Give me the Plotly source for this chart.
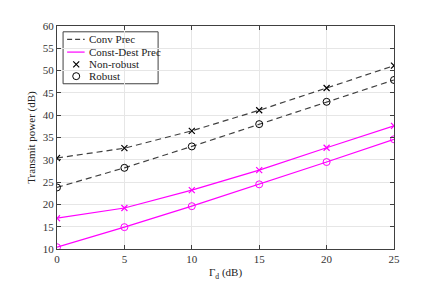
import plotly.graph_objects as go

gamma_d = [0, 5, 10, 15, 20, 25]
conv_nonrobust = [30.4, 32.6, 36.5, 41.1, 46.1, 51.1]
conv_robust = [23.8, 28.2, 33.0, 38.0, 43.0, 47.9]
cd_nonrobust = [16.9, 19.2, 23.2, 27.7, 32.7, 37.6]
cd_robust = [10.4, 14.9, 19.6, 24.5, 29.5, 34.6]

x_ticks = [0, 5, 10, 15, 20, 25]
y_ticks = [10, 15, 20, 25, 30, 35, 40, 45, 50, 55, 60]

legend_labels = ["Conv Prec", "Const-Dest Prec", "Non-robust", "Robust"]

DARK = "#404040"
MAG = "#ff00ff"
FONT = "Liberation Serif"
DASH = "6px,4px"

X_MARK = dict(symbol="x-thin", size=6, line=dict(color="black", width=1.2))
O_MARK = dict(symbol="circle-open", size=7, color="black", line=dict(width=1))

fig = go.Figure()
fig.add_trace(go.Scatter(x=gamma_d, y=conv_nonrobust, mode="lines+markers",
                         line=dict(color=DARK, width=1.2, dash=DASH),
                         marker=X_MARK, showlegend=False))
fig.add_trace(go.Scatter(x=gamma_d, y=conv_robust, mode="lines+markers",
                         line=dict(color=DARK, width=1.2, dash=DASH),
                         marker=O_MARK, showlegend=False))
fig.add_trace(go.Scatter(x=gamma_d, y=cd_nonrobust, mode="lines+markers",
                         line=dict(color=MAG, width=1.2),
                         marker=dict(symbol="x-thin", size=6, line=dict(color=MAG, width=1.2)),
                         showlegend=False))
fig.add_trace(go.Scatter(x=gamma_d, y=cd_robust, mode="lines+markers",
                         line=dict(color=MAG, width=1.2),
                         marker=dict(symbol="circle-open", size=7, color=MAG, line=dict(width=1)),
                         showlegend=False))

# ---- legend (drawn in an overlay unit axis) ----
lx0, lx1 = 0.018, 0.30
ly0, ly1 = 0.741, 0.974
rows = [0.940, 0.883, 0.828, 0.775]
samp_x = [0.030, 0.082]
mark_x = 0.057
text_x = 0.090

fig.add_shape(type="rect", xref="paper", yref="paper", x0=lx0, x1=lx1, y0=ly0, y1=ly1,
              line=dict(color=DARK, width=1), fillcolor="white", layer="between")
fig.add_trace(go.Scatter(x=samp_x, y=[rows[0]] * 2, mode="lines", xaxis="x2", yaxis="y2",
                         line=dict(color=DARK, width=1.2, dash="5px,3px"), showlegend=False, hoverinfo="skip"))
fig.add_trace(go.Scatter(x=samp_x, y=[rows[1]] * 2, mode="lines", xaxis="x2", yaxis="y2",
                         line=dict(color=MAG, width=1.2), showlegend=False, hoverinfo="skip"))
fig.add_trace(go.Scatter(x=[mark_x], y=[rows[2]], mode="markers", xaxis="x2", yaxis="y2",
                         marker=X_MARK, showlegend=False, hoverinfo="skip"))
fig.add_trace(go.Scatter(x=[mark_x], y=[rows[3]], mode="markers", xaxis="x2", yaxis="y2",
                         marker=O_MARK, showlegend=False, hoverinfo="skip"))
for lab, ry in zip(legend_labels, rows):
    fig.add_annotation(x=text_x, y=ry, xref="paper", yref="paper", text=lab, showarrow=False,
                       xanchor="left", yanchor="middle",
                       font=dict(family=FONT, size=11, color="#222"))

axis_common = dict(showline=True, mirror="ticks", linecolor="#404040", linewidth=1,
                   ticks="inside", ticklen=4, tickcolor="#404040",
                   showgrid=True, gridcolor="#e6e6e6", gridwidth=1, zeroline=False,
                   tickfont=dict(family=FONT, size=11, color="#333"))

fig.update_xaxes(range=[0, 25], tickvals=x_ticks,
                 title=dict(text="Γ<sub>d</sub> (dB)", font=dict(family=FONT, size=11, color="#222"), standoff=4),
                 **axis_common)
fig.update_yaxes(range=[10, 60], tickvals=y_ticks,
                 title=dict(text="Transmit power (dB)", font=dict(family=FONT, size=11, color="#222"), standoff=4),
                 **axis_common)

fig.update_layout(
    width=436, height=282,
    margin=dict(l=49, r=50, t=13, b=41),
    paper_bgcolor="white", plot_bgcolor="white",
    font=dict(family=FONT, size=11, color="#222"),
    showlegend=False,
    xaxis2=dict(range=[0, 1], overlaying="x", visible=False, fixedrange=True),
    yaxis2=dict(range=[0, 1], overlaying="y", visible=False, fixedrange=True),
)

fig.write_html("out.html")
